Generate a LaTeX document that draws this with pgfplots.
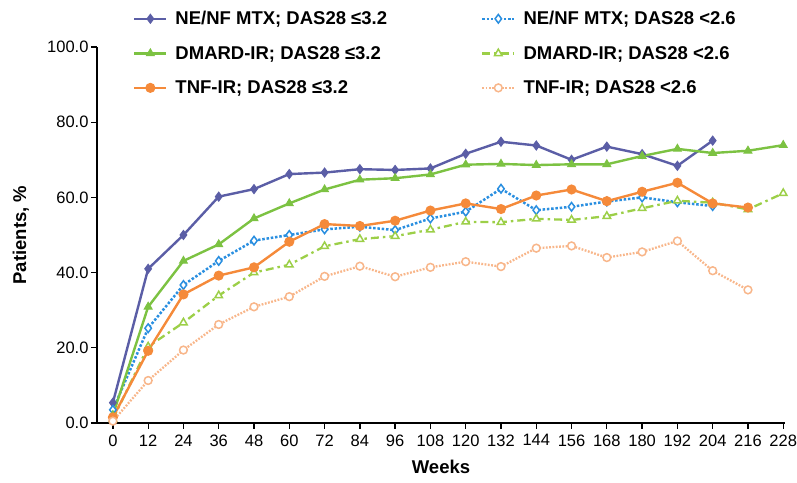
\documentclass[border=0pt]{standalone}
\usepackage{pgfplots}
\pgfplotsset{compat=1.18}
\usepackage{fontspec}
\setmainfont{Liberation Sans}
\definecolor{cPur}{HTML}{5B5EA6}
\definecolor{cGrn}{HTML}{7CC242}
\definecolor{cOra}{HTML}{F58A3A}
\definecolor{cBlu}{HTML}{2A8FE0}
\definecolor{cLgr}{HTML}{9CCF48}
\definecolor{cLor}{HTML}{F8B68A}
\begin{document}
\begin{tikzpicture}
\begin{axis}[
  scale only axis,
  width=688pt, height=376pt,
  xmin=-5.4, xmax=228.6,
  ymin=0, ymax=100,
  axis x line*=bottom, axis y line*=left,
  axis line style={line width=1.6pt, black},
  xtick={0,12,...,228},
  ytick={0,20,...,100},
  tick align=outside,
  major tick length=6pt,
  tick style={line width=1.3pt, black},
  tick label style={font=\fontsize{16.5}{18}\selectfont},
  /pgf/number format/assume math mode=true,
  yticklabel style={/pgf/number format/.cd, fixed, fixed zerofill, precision=1, /tikz/.cd, anchor=east, xshift=1pt},
  xticklabel style={/pgf/number format/.cd, fixed, precision=0, /tikz/.cd, yshift=-2pt},
  xlabel={\bfseries Weeks},
  ylabel={\bfseries Patients, \%},
  label style={font=\fontsize{18.5}{20}\selectfont},
  xlabel style={at={(axis description cs:0.5,0)}, anchor=center, yshift=-44pt},
  ylabel style={at={(axis description cs:-0.1105,0.5)}, anchor=center},
  clip=false,
  legend columns=2,
  legend cell align=left,
  legend style={draw=none, fill=none, at={(0.048,1.106)}, anchor=north west,
    font=\fontsize{18.5}{20}\selectfont\bfseries,
    row sep=16pt,
    /tikz/every odd column/.style={column sep=6pt},
    /tikz/column 2/.style={column sep=92pt}},
  legend image code/.code={\draw[mark repeat=2,mark phase=2] plot coordinates {(0cm,0cm)(0.56cm,0cm)(1.12cm,0cm)};},
]
% NE/NF MTX <=3.2
\addplot[color=cPur, line width=2.4pt, mark=diamond*, mark size=4.5pt, mark options={solid, fill=cPur, line width=1pt}] coordinates {
(0,5.4)(12,41)(24,50)(36,60.2)(48,62.2)(60,66.2)(72,66.6)(84,67.5)(96,67.3)(108,67.7)(120,71.6)(132,74.8)(144,73.8)(156,70)(168,73.5)(180,71.5)(192,68.4)(204,75.1)};
\addlegendentry{NE/NF MTX; DAS28 ≤3.2}
% NE/NF MTX <2.6
\addplot[color=cBlu, line width=2.5pt, dash pattern=on 2.5pt off 1.8pt, mark=diamond*, mark size=4.3pt, mark options={solid, fill=white, line width=1.5pt}] coordinates {
(0,3.5)(12,25.2)(24,36.7)(36,43.1)(48,48.5)(60,50)(72,51.5)(84,52.2)(96,51.3)(108,54.4)(120,56.2)(132,62.3)(144,56.6)(156,57.5)(168,58.9)(180,60)(192,58.7)(204,57.7)};
\addlegendentry{NE/NF MTX; DAS28 <2.6}
% DMARD-IR <=3.2
\addplot[color=cGrn, line width=2.4pt, mark=triangle*, mark size=4.5pt, mark options={solid, fill=cGrn, line width=1pt}] coordinates {
(0,2.1)(12,30.9)(24,43.1)(36,47.5)(48,54.4)(60,58.4)(72,62.1)(84,64.7)(96,65.1)(108,66.1)(120,68.7)(132,68.9)(144,68.6)(156,68.8)(168,68.8)(180,71)(192,72.9)(204,71.8)(216,72.4)(228,73.9)};
\addlegendentry{DMARD-IR; DAS28 ≤3.2}
% DMARD-IR <2.6
\addplot[color=cLgr, line width=2.3pt, dash pattern=on 8pt off 4pt on 2.5pt off 4pt, mark=triangle*, mark size=4.3pt, mark options={solid, fill=white, line width=1.5pt}] coordinates {
(0,1)(12,20.3)(24,26.7)(36,33.9)(48,40)(60,42.1)(72,47)(84,48.9)(96,49.7)(108,51.4)(120,53.5)(132,53.4)(144,54.3)(156,54)(168,55)(180,57.1)(192,59.1)(204,58.6)(216,56.8)(228,61.1)};
\addlegendentry{DMARD-IR; DAS28 <2.6}
% TNF-IR <=3.2
\addplot[color=cOra, line width=2.4pt, mark=*, mark size=3.8pt, mark options={solid, fill=cOra}] coordinates {
(0,1.5)(12,19.2)(24,34.2)(36,39.2)(48,41.4)(60,48.2)(72,52.9)(84,52.4)(96,53.8)(108,56.5)(120,58.4)(132,56.9)(144,60.5)(156,62.1)(168,59)(180,61.5)(192,63.9)(204,58.4)(216,57.3)};
\addlegendentry{TNF-IR; DAS28 ≤3.2}
% TNF-IR <2.6
\addplot[color=cLor, line width=2.3pt, dash pattern=on 1.8pt off 1.5pt, mark=*, mark size=3.9pt, mark options={solid, fill=white, line width=1.5pt}] coordinates {
(0,0.5)(12,11.3)(24,19.4)(36,26.2)(48,30.9)(60,33.6)(72,39)(84,41.7)(96,38.9)(108,41.4)(120,42.9)(132,41.6)(144,46.5)(156,47.1)(168,44)(180,45.5)(192,48.4)(204,40.5)(216,35.4)};
\addlegendentry{TNF-IR; DAS28 <2.6}
\end{axis}
\pgfresetboundingbox
\path ([shift={(-97pt,-60pt)}]current axis.south west) rectangle ([shift={(12pt,47pt)}]current axis.north east);
\end{tikzpicture}
\end{document}
